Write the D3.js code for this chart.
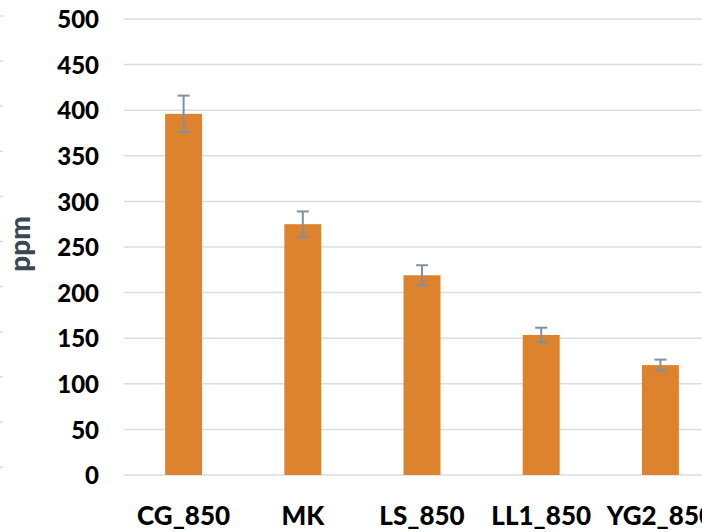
<!DOCTYPE html>
<html>
<head>
<meta charset="utf-8">
<script src="https://cdn.jsdelivr.net/npm/d3@7"></script>
<style>
  html, body { margin: 0; padding: 0; background: #fff; }
  svg { display: block; }
</style>
</head>
<body>
<script>
const categories = ["CG_850", "MK", "LS_850", "LL1_850", "YG2_850"];
const values = [396, 275, 219, 153.5, 120.5];
const errors = [20, 14, 11, 8, 6];
const yTicks = [0, 50, 100, 150, 200, 250, 300, 350, 400, 450, 500];
const yLabel = "ppm";

const W = 702, H = 532;
const svg = d3.select("body").append("svg").attr("width", W).attr("height", H);

// neighbouring chart stubs at the left edge (cropped)
const yNeighbour = d3.scaleLinear().domain([0, 500]).range([467, 16]);
svg.append("g").selectAll("line").data(yTicks).join("line")
  .attr("x1", 0).attr("x2", 3)
  .attr("y1", d => yNeighbour(d)).attr("y2", d => yNeighbour(d))
  .attr("stroke", "#dadde0").attr("stroke-width", 1.5);

const y = d3.scaleLinear().domain([0, 500]).range([475, 19]);
const x = d3.scaleBand().domain(categories).range([124, 720])
  .paddingInner(0.69).paddingOuter(0.345);

const font = "Lato, 'Open Sans', sans-serif";

// gridlines
svg.append("g").selectAll("line").data(yTicks).join("line")
  .attr("x1", 124).attr("x2", W)
  .attr("y1", d => y(d)).attr("y2", d => y(d))
  .attr("stroke", "#dadde0").attr("stroke-width", 1.5);

// y axis labels
const yAxis = d3.axisLeft(y).tickValues(yTicks).tickSize(0).tickPadding(0);
const gy = svg.append("g").attr("transform", "translate(99,0)").call(yAxis);
gy.select(".domain").remove();
gy.selectAll("text")
  .attr("font-family", font).attr("font-weight", 900)
  .attr("font-size", 24).attr("fill", "#000").attr("dy", "0.36em");

// bars
svg.append("g").selectAll("rect").data(categories).join("rect")
  .attr("x", d => x(d)).attr("width", x.bandwidth())
  .attr("y", (d, i) => y(values[i]))
  .attr("height", (d, i) => y(0) - y(values[i]))
  .attr("fill", "#dd832d");

// error bars
const eb = svg.append("g").attr("stroke", "#7d91a3").attr("stroke-width", 2);
categories.forEach((c, i) => {
  const cx = x(c) + x.bandwidth() / 2;
  const top = y(values[i] + errors[i]), bot = y(values[i] - errors[i]);
  eb.append("line").attr("x1", cx).attr("x2", cx).attr("y1", top).attr("y2", bot);
  eb.append("line").attr("x1", cx - 6).attr("x2", cx + 6).attr("y1", top).attr("y2", top);
  eb.append("line").attr("x1", cx - 6).attr("x2", cx + 6).attr("y1", bot).attr("y2", bot);
});

// x axis labels
const xAxis = d3.axisBottom(x).tickSize(0).tickPadding(0);
const gx = svg.append("g").attr("transform", "translate(0,525)").call(xAxis);
gx.select(".domain").remove();
gx.selectAll("text")
  .attr("font-family", font).attr("font-weight", 900)
  .attr("font-size", 26).attr("fill", "#000").attr("dy", 0);

// y axis title
svg.append("text")
  .attr("transform", "translate(30,244) rotate(-90)")
  .attr("text-anchor", "middle")
  .attr("font-family", font).attr("font-weight", 900)
  .attr("font-size", 28).attr("fill", "#3b4753")
  .text(yLabel);
</script>
</body>
</html>
